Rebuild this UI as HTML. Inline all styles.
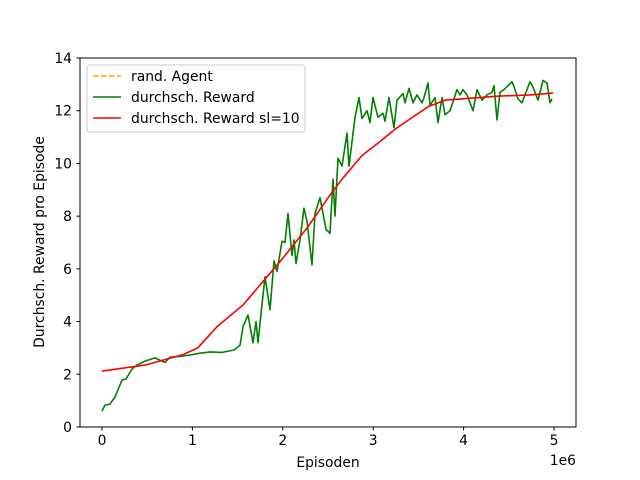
<!DOCTYPE html>
<html><head><meta charset="utf-8"><style>
html,body{margin:0;padding:0;background:#fff;}
svg{display:block;font-family:"DejaVu Sans","Liberation Sans",sans-serif;}
</style></head><body>
<svg id="chart" width="640" height="480" viewBox="0 0 640 480" xmlns="http://www.w3.org/2000/svg">
<rect x="0" y="0" width="640" height="480" fill="#fff"/>
<g id="series"></g>
<rect x="80" y="58" width="496" height="369" fill="none" stroke="#000" stroke-width="1"/>
<g id="axes"></g>
<text x="328" y="467" font-size="13.9" text-anchor="middle">Episoden</text>
<text x="576" y="465" font-size="13.9" text-anchor="end">1e6</text>
<text transform="translate(44,242) rotate(-90)" font-size="13.9" text-anchor="middle">Durchsch. Reward pro Episode</text>
<g>
<rect x="87" y="65" width="218" height="67" rx="3" fill="#fff" fill-opacity="0.8" stroke="#ccc"/>
<line x1="93" y1="76" x2="121" y2="76" stroke="orange" stroke-width="1.5" stroke-dasharray="5.5,2.5"/>
<text x="131" y="81" font-size="13.9">rand. Agent</text>
<line x1="93" y1="97" x2="121" y2="97" stroke="green" stroke-width="1.5"/>
<text x="131" y="102" font-size="13.9">durchsch. Reward</text>
<line x1="93" y1="118" x2="121" y2="118" stroke="red" stroke-width="1.5"/>
<text x="131" y="123" font-size="13.9">durchsch. Reward sl=10</text>
</g>
</svg>
<script>
const xTicks=[0,1,2,3,4,5];
const yTicks=[0,2,4,6,8,10,12,14];
const greenX=[0,.033,.088,.144,.221,.265,.332,.387,.476,.586,.664,.697,.752,.863,.973,1.084,1.195,1.327,1.46,1.527,1.56,1.615,1.67,1.704,1.726,1.759,1.803,1.858,1.903,1.936,1.991,2.024,2.058,2.102,2.124,2.146,2.19,2.235,2.268,2.323,2.356,2.412,2.478,2.522,2.555,2.577,2.611,2.655,2.71,2.732,2.799,2.843,2.876,2.931,2.965,2.998,3.053,3.108,3.13,3.175,3.23,3.263,3.33,3.352,3.396,3.44,3.485,3.54,3.562,3.606,3.628,3.684,3.717,3.761,3.794,3.85,3.927,3.96,3.993,4.038,4.104,4.148,4.204,4.259,4.314,4.336,4.37,4.403,4.447,4.491,4.535,4.569,4.602,4.646,4.701,4.735,4.768,4.823,4.878,4.923,4.956,4.978];
const greenY=[0.6,0.83,0.87,1.14,1.78,1.82,2.2,2.35,2.5,2.62,2.5,2.45,2.65,2.68,2.73,2.8,2.85,2.83,2.92,3.1,3.8,4.25,3.2,4.0,3.2,4.3,5.7,4.45,6.3,5.9,7.05,7.0,8.1,6.5,7.1,6.2,7.1,8.3,7.8,6.15,8.1,8.7,7.5,7.35,9.4,8.0,10.2,9.9,11.15,9.9,11.75,12.5,11.7,12.0,11.55,12.5,11.75,11.9,11.6,12.5,11.35,12.4,12.65,12.3,12.85,12.3,12.6,12.3,12.5,13.05,12.2,12.5,11.55,12.5,11.85,12.0,12.8,12.6,12.8,12.6,12.0,12.8,12.4,12.6,12.7,12.95,11.65,12.7,12.8,12.95,13.1,12.8,12.45,12.3,12.8,13.1,12.9,12.4,13.15,13.05,12.3,12.45];
const redX=[0,.476,.9,1.06,1.272,1.56,1.825,1.969,2.268,2.522,2.655,2.876,3.053,3.263,3.606,3.794,4.37,4.735,4.989];
const redY=[2.12,2.35,2.75,3.0,3.8,4.63,5.7,6.27,7.55,8.8,9.4,10.3,10.77,11.35,12.15,12.4,12.55,12.6,12.67];
const sx=v=>102+v*90.4, sy=v=>427-v*(369/14);
const NS="http://www.w3.org/2000/svg";
const axes=document.getElementById('axes'), series=document.getElementById('series');
function mk(tag,attrs,parent){const e=document.createElementNS(NS,tag);for(const k in attrs)e.setAttribute(k,attrs[k]);parent.appendChild(e);return e;}
xTicks.forEach(t=>{
 const l=mk('line',{x1:sx(t),x2:sx(t),y1:427,y2:430.5,stroke:'#000'},axes);
 
 
 const tx=mk('text',{x:sx(t),y:445,'font-size':13.9,'text-anchor':'middle'},axes);tx.textContent=t;
 
 
});
yTicks.forEach(t=>{
 const l=mk('line',{x1:76.5,x2:80,y1:sy(t),y2:sy(t),stroke:'#000'},axes);
 
 
 const tx=mk('text',{x:72,y:sy(t)+5,'font-size':13.9,'text-anchor':'end'},axes);tx.textContent=t;
 
 
});
function pts(xs,ys){return xs.map((x,i)=>sx(x).toFixed(1)+','+sy(ys[i]).toFixed(1)).join(' ');}
const g=mk('polyline',{points:pts(greenX,greenY),fill:'none',stroke:'green','stroke-width':1.6,'stroke-linejoin':'round'},series);


const r=mk('polyline',{points:pts(redX,redY),fill:'none',stroke:'red','stroke-width':1.6,'stroke-linejoin':'round'},series);


</script>
</body></html>
